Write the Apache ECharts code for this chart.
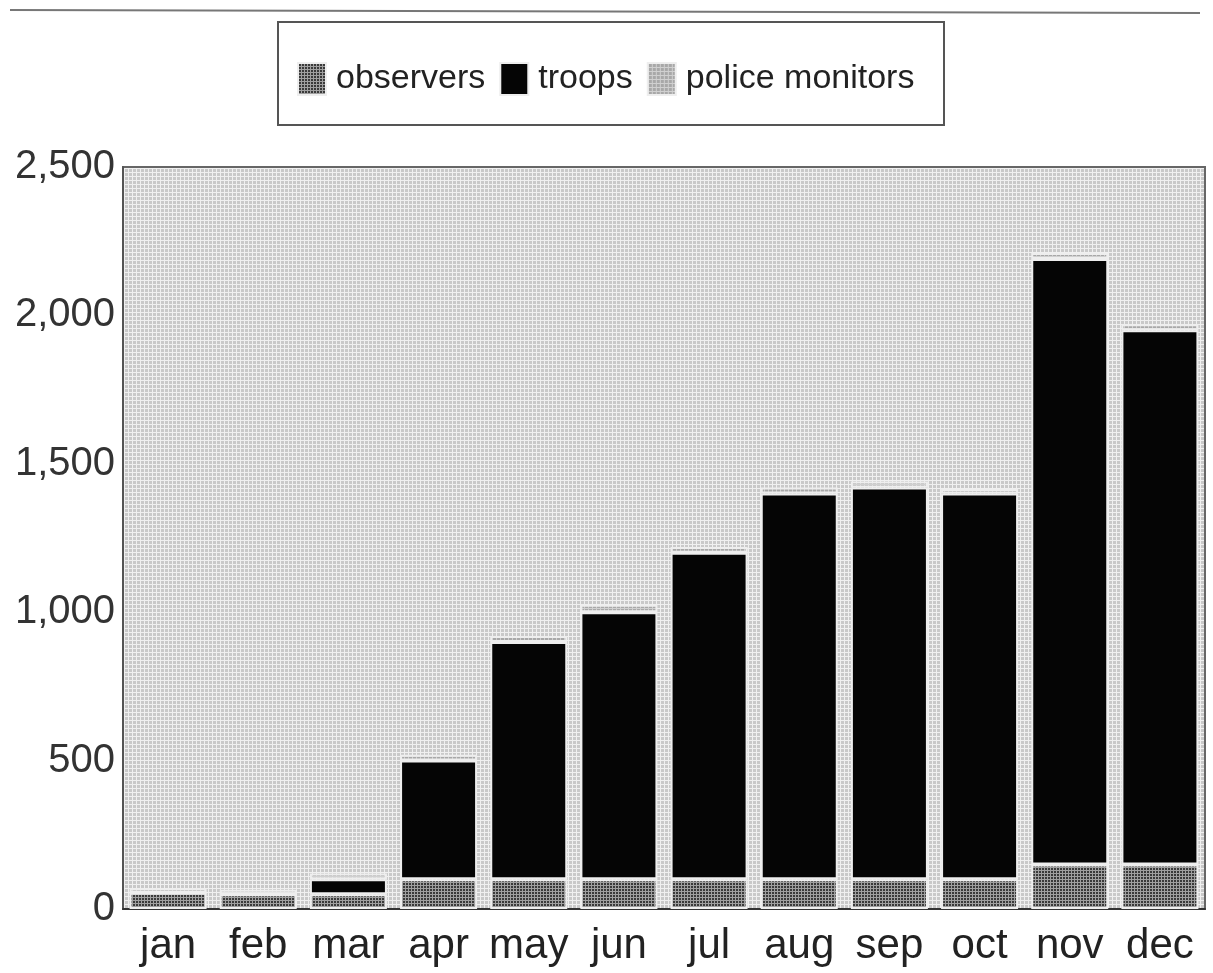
<!DOCTYPE html>
<html>
<head>
<meta charset="utf-8">
<script src="https://cdn.jsdelivr.net/npm/echarts@6/dist/echarts.min.js"></script>
<style>
  html, body { margin: 0; padding: 0; background: #ffffff; }
  #chart { width: 1213px; height: 973px; }
</style>
</head>
<body>
<div id="chart"></div>
<script>
// Monthly deployment, stacked by personnel type
const months = ['jan', 'feb', 'mar', 'apr', 'may', 'jun', 'jul', 'aug', 'sep', 'oct', 'nov', 'dec'];
const observers = [55, 50, 50, 100, 100, 100, 100, 100, 100, 100, 150, 150];
const troops = [0, 0, 50, 400, 800, 900, 1100, 1300, 1320, 1300, 2040, 1800];
const policeMonitors = [15, 15, 20, 20, 20, 25, 20, 20, 20, 15, 20, 20];
const yTicks = [0, 500, 1000, 1500, 2000, 2500];

// Small tiled textures for the screened fills
function makePattern(size, base, line, step) {
  const c = document.createElement('canvas');
  c.width = size; c.height = size;
  const g = c.getContext('2d');
  g.fillStyle = base;
  g.fillRect(0, 0, size, size);
  g.fillStyle = line;
  for (let i = 0; i < size; i += step) {
    g.fillRect(i, 0, 1, size);
    g.fillRect(0, i, size, 1);
  }
  return { image: c, repeat: 'repeat' };
}

const plotFill = makePattern(4, '#c9c9c9', '#f0f0f0', 4);
const observerFill = makePattern(6, '#3a3a3a', '#a0a0a0', 3);
const policeFill = makePattern(4, '#a8a8a8', '#d0d0d0', 4);

const chart = echarts.init(document.getElementById('chart'));
const fontFamily = '"Liberation Sans", Arial, sans-serif';

const barCommon = {
  type: 'bar',
  stack: 'total',
  barWidth: 77
};

chart.setOption({
  animation: false,
  backgroundColor: '#ffffff',
  graphic: [
    {
      type: 'line',
      shape: { x1: 10, y1: 10, x2: 1200, y2: 13 },
      style: { stroke: '#777777', lineWidth: 2 }
    },
    {
      type: 'rect',
      shape: { x: 278, y: 22, width: 666, height: 103 },
      style: { fill: 'none', stroke: '#555555', lineWidth: 2 },
      z: 0
    }
  ],
  legend: {
    top: 57,
    left: 292,
    itemWidth: 28,
    itemHeight: 32,
    itemGap: 14,
    icon: 'rect',
    textStyle: { fontFamily: fontFamily, fontSize: 34, color: '#222222', padding: [0, 0, 0, 5] },
    data: ['observers', 'troops', 'police monitors']
  },
  grid: {
    left: 123,
    right: 8,
    top: 167,
    bottom: 64,
    show: true,
    backgroundColor: plotFill,
    borderColor: '#666666',
    borderWidth: 2
  },
  xAxis: {
    type: 'category',
    data: months,
    axisLine: { lineStyle: { color: '#333333', width: 2 } },
    axisTick: { show: false },
    axisLabel: { interval: 0, fontFamily: fontFamily, fontSize: 42, color: '#222222', margin: 16 }
  },
  yAxis: {
    type: 'value',
    min: yTicks[0],
    max: yTicks[yTicks.length - 1],
    interval: yTicks[1] - yTicks[0],
    axisLine: { show: true, lineStyle: { color: '#555555', width: 2 } },
    axisTick: { show: false },
    splitLine: { show: false },
    axisLabel: {
      fontFamily: fontFamily,
      fontSize: 40,
      color: '#333333',
      margin: 8,
      formatter: v => v.toLocaleString('en-US')
    }
  },
  series: [
    Object.assign({}, barCommon, {
      name: 'observers',
      data: observers,
      itemStyle: { color: observerFill, borderColor: '#eeeeee', borderWidth: 2 }
    }),
    Object.assign({}, barCommon, {
      name: 'troops',
      data: troops,
      itemStyle: { color: '#050505', borderColor: '#eeeeee', borderWidth: 2 }
    }),
    Object.assign({}, barCommon, {
      name: 'police monitors',
      data: policeMonitors,
      itemStyle: { color: policeFill, borderColor: '#eeeeee', borderWidth: 2 }
    })
  ]
});
</script>
</body>
</html>
